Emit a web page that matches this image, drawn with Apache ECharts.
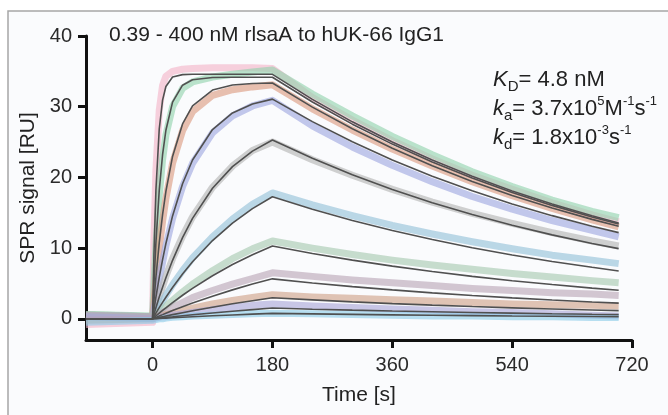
<!DOCTYPE html>
<html><head><meta charset="utf-8">
<script src="https://cdn.jsdelivr.net/npm/echarts@6/dist/echarts.min.js"></script>
<style>html,body{margin:0;padding:0;background:#fff}#c{width:668px;height:415px}</style>
</head><body><div id="c"></div>
<script>
// time points (s)
const times = [-100, 0, 2, 5, 10, 15, 20, 30, 45, 60, 90, 120, 150, 180, 240, 300, 360, 420, 480, 540, 600, 660, 700];
// analyte concentrations (nM)
const concentrations = ['400', '200', '100', '50', '25', '12.5', '6.25', '3.125', '1.56', '0.78', '0.39'];

// measured sensorgrams (RU)
const meas400  = [-0.8, -0.5, 11.0, 21.0, 29.5, 33.0, 34.3, 35.0, 35.3, 35.4, 35.5, 35.5, 35.5, 35.4, 31.3, 28.1, 25.2, 22.6, 20.3, 18.3, 16.4, 14.7, 13.7];
const meas200  = [0.6, 0.4, 4.5, 10.3, 17.5, 22.5, 26.0, 30.0, 32.6, 33.5, 34.2, 34.6, 34.9, 35.2, 31.8, 28.7, 25.8, 23.2, 20.8, 18.7, 16.8, 15.2, 14.3];
const meas100  = [0.3, 0.2, 2.2, 5.5, 10.0, 13.8, 17.0, 22.0, 26.6, 29.3, 31.6, 32.4, 32.8, 33.1, 29.7, 26.7, 24.0, 21.6, 19.4, 17.4, 15.6, 14.0, 13.0];
const meas50   = [0.5, 0.3, 1.2, 2.9, 5.6, 8.0, 10.3, 14.2, 18.7, 22.0, 26.3, 28.7, 30.1, 30.9, 27.3, 24.3, 21.7, 19.4, 17.3, 15.5, 13.9, 12.5, 11.6];
const meas25   = [0.3, 0.2, 0.7, 1.6, 3.2, 4.6, 6.0, 8.5, 11.7, 14.4, 18.6, 21.6, 23.8, 25.0, 22.5, 20.3, 18.3, 16.5, 14.9, 13.5, 12.2, 11.0, 10.3];
const meas12_5 = [0.4, 0.2, 0.4, 0.9, 1.7, 2.5, 3.3, 4.8, 6.8, 8.6, 11.6, 14.1, 16.2, 17.8, 16.1, 14.6, 13.2, 12.0, 10.9, 9.9, 9.0, 8.3, 7.8];
const meas6_25 = [0.6, 0.3, 0.4, 0.6, 1.0, 1.4, 1.8, 2.6, 3.8, 4.9, 6.8, 8.5, 9.9, 11.0, 10.0, 9.1, 8.3, 7.6, 7.0, 6.4, 5.9, 5.4, 5.1];
const meas3_1  = [0.5, 0.3, 0.3, 0.4, 0.6, 0.9, 1.1, 1.6, 2.3, 3.0, 4.0, 4.9, 5.7, 6.5, 6.0, 5.5, 5.1, 4.7, 4.3, 4.0, 3.7, 3.5, 3.3];
const meas1_56 = [-0.2, 0.0, 0.1, 0.2, 0.3, 0.4, 0.6, 0.8, 1.2, 1.5, 2.1, 2.6, 3.0, 3.4, 3.1, 2.9, 2.7, 2.5, 2.3, 2.1, 2.0, 1.9, 1.8];
const meas0_78 = [0.3, 0.0, 0.0, 0.1, 0.2, 0.3, 0.3, 0.5, 0.7, 0.9, 1.3, 1.6, 1.9, 2.1, 1.8, 1.6, 1.4, 1.2, 1.0, 0.9, 0.7, 0.5, 0.4];
const meas0_39 = [-0.5, -0.2, -0.2, -0.1, 0.0, 0.0, 0.1, 0.2, 0.3, 0.4, 0.5, 0.6, 0.7, 0.8, 0.7, 0.6, 0.5, 0.4, 0.4, 0.3, 0.3, 0.2, 0.2];

// 1:1 fitted curves (RU)
const fit400  = [0, 0, 8.95, 18.22, 26.85, 30.93, 32.86, 34.19, 34.54, 34.58, 34.58, 34.58, 34.58, 34.58, 31.04, 27.86, 25.01, 22.45, 20.15, 18.09, 16.24, 14.58, 13.56];
const fit200  = [0, 0, 4.81, 10.78, 18.16, 23.21, 26.67, 30.65, 33.04, 33.81, 34.13, 34.17, 34.17, 34.17, 30.67, 27.53, 24.71, 22.18, 19.91, 17.87, 16.04, 14.40, 13.40];
const fit100  = [0, 0, 2.49, 5.88, 10.74, 14.73, 18.02, 22.96, 27.56, 30.13, 32.36, 33.06, 33.28, 33.35, 29.94, 26.87, 24.12, 21.65, 19.43, 17.45, 15.66, 14.06, 13.08];
const fit50   = [0, 0, 1.27, 3.08, 5.86, 8.37, 10.65, 14.55, 19.11, 22.46, 26.77, 29.11, 30.38, 31.07, 27.89, 25.03, 22.47, 20.17, 18.10, 16.25, 14.59, 13.10, 12.19];
const fit25   = [0, 0, 0.64, 1.57, 3.07, 4.47, 5.81, 8.27, 11.48, 14.20, 18.46, 21.52, 23.72, 25.29, 22.70, 20.38, 18.29, 16.42, 14.74, 13.23, 11.87, 10.66, 9.92];
const fit12_5 = [0, 0, 0.32, 0.80, 1.57, 2.32, 3.04, 4.42, 6.33, 8.06, 11.07, 13.54, 15.59, 17.27, 15.50, 13.91, 12.49, 11.21, 10.06, 9.03, 8.11, 7.28, 6.77];
const fit6_25 = [0, 0, 0.16, 0.40, 0.79, 1.18, 1.55, 2.29, 3.33, 4.31, 6.09, 7.67, 9.06, 10.30, 9.24, 8.30, 7.45, 6.69, 6.00, 5.39, 4.84, 4.34, 4.04];
const fit3_1  = [0, 0, 0.08, 0.20, 0.40, 0.59, 0.79, 1.16, 1.71, 2.23, 3.20, 4.09, 4.91, 5.65, 5.07, 4.55, 4.09, 3.67, 3.29, 2.96, 2.65, 2.38, 2.22];
const fit1_56 = [0, 0, 0.04, 0.10, 0.20, 0.30, 0.40, 0.59, 0.86, 1.13, 1.64, 2.12, 2.56, 2.97, 2.67, 2.39, 2.15, 1.93, 1.73, 1.55, 1.39, 1.25, 1.16];
const fit0_78 = [0, 0, 0.02, 0.05, 0.10, 0.15, 0.20, 0.29, 0.43, 0.57, 0.83, 1.07, 1.30, 1.52, 1.36, 1.22, 1.10, 0.99, 0.89, 0.80, 0.71, 0.64, 0.60];
const fit0_39 = [0, 0, 0.01, 0.03, 0.05, 0.08, 0.10, 0.15, 0.22, 0.29, 0.42, 0.54, 0.66, 0.77, 0.69, 0.62, 0.56, 0.50, 0.45, 0.40, 0.36, 0.32, 0.30];

const xTicks = [0, 180, 360, 540, 720];
const yTicks = [0, 10, 20, 30, 40];

const measured = [meas400, meas200, meas100, meas50, meas25, meas12_5, meas6_25, meas3_1, meas1_56, meas0_78, meas0_39];
const fitted = [fit400, fit200, fit100, fit50, fit25, fit12_5, fit6_25, fit3_1, fit1_56, fit0_78, fit0_39];
const colors = ['#f3b3c8', '#92d2ad', '#dc9a7f', '#9ea6e0', '#b3b3b3', '#93c0d9', '#a7c8b0', '#b9a5b6', '#cf9f88', '#a9a4d8', '#8ccbe8'];

const FONT = '"Liberation Sans", Arial, Helvetica, sans-serif';
const series = [];
concentrations.forEach((c, i) => {
  series.push({
    name: c + ' nM', type: 'line', showSymbol: false, silent: true, z: 2,
    data: times.map((t, j) => [t, measured[i][j]]),
    lineStyle: { width: 7, color: colors[i], opacity: 0.62, join: 'round' }
  });
});
concentrations.forEach((c, i) => {
  series.push({
    name: c + ' nM fit', type: 'line', showSymbol: false, silent: true, z: 3,
    data: times.map((t, j) => [t, fitted[i][j]]),
    lineStyle: { width: 1.6, color: '#505050' }
  });
});

const chart = echarts.init(document.getElementById('c'), null, { renderer: 'canvas' });
chart.setOption({
  backgroundColor: '#ffffff',
  animation: false,
  textStyle: { fontFamily: FONT },
  graphic: [
    { type: 'rect', z: -10, silent: true, shape: { x: 8, y: 11, width: 680, height: 420 },
      style: { fill: '#fafbfd', stroke: '#a6a6a6', lineWidth: 1.5 } },
    { type: 'text', left: 493, top: 69, z: 10, silent: true,
      style: {
        text: '{i|K}{sub|D}{n|= 4.8 nM}\n{i|k}{sub|a}{n|= 3.7x10}{sup|5}{n|M}{sup|-1}{n|s}{sup|-1}\n{i|k}{sub|d}{n|= 1.8x10}{sup|-3}{n|s}{sup|-1}',
        rich: {
          n: { fontSize: 22, lineHeight: 29, fill: '#222', fontFamily: FONT },
          i: { fontSize: 22, lineHeight: 29, fill: '#222', fontStyle: 'italic', fontFamily: FONT },
          sub: { fontSize: 15, lineHeight: 20, fill: '#222', verticalAlign: 'bottom', fontFamily: FONT },
          sup: { fontSize: 13, lineHeight: 20, fill: '#222', verticalAlign: 'top', fontFamily: FONT }
        }
      }
    }
  ],
  title: {
    text: '0.39 - 400 nM rlsaA to hUK-66 IgG1',
    left: 109, top: 25, padding: 0,
    textStyle: { fontSize: 21, fontWeight: 'normal', color: '#222', fontFamily: FONT }
  },
  grid: { left: 86, right: 36, top: 36, bottom: 75, containLabel: false, outerBoundsMode: 'none' },
  xAxis: {
    type: 'value', min: -100, max: 720,
    name: 'Time [s]', nameLocation: 'middle', nameGap: 45,
    nameTextStyle: { fontSize: 21, color: '#222', fontFamily: FONT },
    axisLine: { onZero: false, lineStyle: { color: '#111', width: 3 } },
    axisTick: { customValues: xTicks, length: 8, lineStyle: { color: '#111', width: 3 } },
    axisLabel: { customValues: xTicks, margin: 15, fontSize: 20, color: '#2a2a2a', fontFamily: FONT },
    splitLine: { show: false }
  },
  yAxis: {
    type: 'value', min: -3, max: 40,
    name: 'SPR signal [RU]', nameLocation: 'middle', nameGap: 42,
    nameTextStyle: { fontSize: 21, color: '#222', fontFamily: FONT },
    axisLine: { onZero: false, lineStyle: { color: '#111', width: 3 } },
    axisTick: { customValues: yTicks, length: 8, lineStyle: { color: '#111', width: 3 } },
    axisLabel: { customValues: yTicks, margin: 14, fontSize: 20, color: '#2a2a2a', fontFamily: FONT },
    splitLine: { show: false }
  },
  series: series
});
</script>
</body></html>
